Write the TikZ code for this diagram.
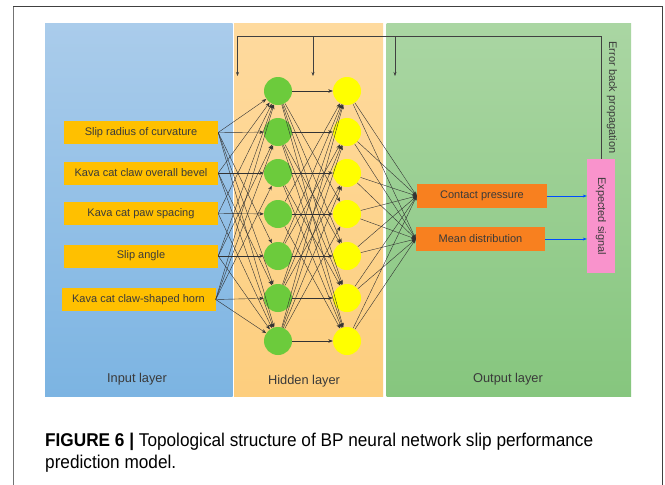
\documentclass[tikz,border=0pt]{standalone}
\usepackage{fontspec}
\setmainfont{Liberation Sans}
\newfontfamily\capfont[FakeStretch=0.93]{Liberation Sans}
\usetikzlibrary{arrows.meta}
\definecolor{inbox}{HTML}{FFC000}
\definecolor{outbox}{HTML}{F8801F}
\definecolor{sigbox}{HTML}{F993CC}
\definecolor{hidA}{HTML}{6CCB3C}
\definecolor{hidB}{HTML}{FFFF00}
\definecolor{textc}{HTML}{3A3A3A}
\tikzset{
  x=1pt, y=-1pt,
  lbl/.style={font=\fontsize{11}{13}\selectfont, text=textc},
  layerlbl/.style={font=\fontsize{12.8}{15}\selectfont, text=textc},
  inbox/.style={lbl, fill=inbox, minimum width=154pt, minimum height=23pt, inner sep=0pt},
  outbox/.style={lbl, fill=outbox, minimum width=130pt, minimum height=24pt, inner sep=0pt},
  neuronA/.style={circle, fill=hidA, minimum size=28pt, inner sep=0pt},
  neuronB/.style={circle, fill=hidB, minimum size=28pt, inner sep=0pt},
  link/.style={draw=black!80, line width=0.4pt, -{Stealth[length=4.5pt,width=3.5pt]}},
  feed/.style={draw=black!75, line width=0.45pt},
  sigarrow/.style={draw=blue!70!cyan, line width=0.5pt, -{Stealth[length=4pt,width=3pt]}},
}
\begin{document}
\begin{tikzpicture}
\useasboundingbox (0,0) rectangle (665,485);
\fill[white] (0,0) rectangle (665,485);
% outer frame
\draw[black!55, line width=0.9pt] (13,485) -- (13,6);
\draw[black!75, line width=0.9pt] (13,6) -- (662,6) -- (662,485);

% layer panels
\shade[top color={rgb,255:red,170;green,204;blue,235}, bottom color={rgb,255:red,124;green,180;blue,226}] (45,23) rectangle (232.5,396);
\shade[top color={rgb,255:red,254;green,218;blue,158}, bottom color={rgb,255:red,253;green,206;blue,126}] (234,23) rectangle (383,396);
\shade[top color={rgb,255:red,170;green,214;blue,163}, bottom color={rgb,255:red,134;green,198;blue,126}] (386.5,23) rectangle (631,396);

\node[layerlbl] (inlayer) at (137,379) {Input layer};
\node[layerlbl] (hidlayer) at (304,381) {Hidden layer};
\node[layerlbl] (outlayer) at (508,379) {Output layer};

% input nodes
\node[inbox] (in1) at (141,132.5) {Slip radius of curvature};
\node[inbox] (in2) at (141,173) {Kava cat claw overall bevel};
\node[inbox] (in3) at (141,213.5) {Kava cat paw spacing};
\node[inbox] (in4) at (141,256) {Slip angle};
\node[inbox] (in5) at (138.5,299.5) {Kava cat claw-shaped horn};

% hidden neurons
\foreach \i/\yy in {1/91,2/132,3/173,4/214,5/256,6/298,7/341}{
  \node[neuronA] (h\i) at (278,\yy) {};
  \node[neuronB] (g\i) at (347,\yy) {};
}

% output nodes
\node[outbox] (o1) at (482,196) {Contact pressure};
\node[outbox, minimum width=129pt] (o2) at (480.5,239) {Mean distribution};
\node[fill=sigbox, minimum width=28pt, minimum height=114pt, inner sep=0pt] (sig) at (601,216) {};
\node[lbl, rotate=-90] (siglabel) at (sig.center) {Expected signal};

% input -> first hidden layer
\foreach \i/\targets in {1/{1,2,5,6,7}, 2/{1,3,6,7}, 3/{1,4,7}, 4/{1,2,5,7}, 5/{1,2,3,6,7}}{
  \foreach \j in \targets {
    \draw[link] (in\i.east) -- (h\j);
  }
}
% first hidden -> second hidden layer
\foreach \i in {1,...,7}{
  \foreach \j in {1,...,7}{
    \pgfmathtruncatemacro{\dd}{abs(\i-\j)}
    \ifnum\dd=0 \draw[link] (h\i) -- (g\j);\fi
    \ifnum\dd>2 \draw[link] (h\i) -- (g\j);\fi
  }
  \draw[link] (g\i) -- (o1.west);
  \draw[link] (g\i) -- (o2.west);
}

% outputs to expected signal
\draw[sigarrow] (o1.east) -- (sig.west |- o1.east);
\draw[sigarrow] (o2.east) -- (sig.west |- o2.east);

% error back propagation path
\coordinate (ebtop) at (601,36);
\coordinate (ebl) at (237.5,36);
\coordinate (ebm) at (313,36);
\coordinate (ebr) at (395,36);
\coordinate (dl) at (237.5,76);
\coordinate (dm) at (313,76);
\coordinate (dr) at (395,76);
\draw[feed] (sig.north) -- (ebtop) -- (ebl);
\draw[feed, -{Stealth[length=4pt,width=3pt]}] (ebl) -- (dl);
\draw[feed, -{Stealth[length=4pt,width=3pt]}] (ebm) -- (dm);
\draw[feed, -{Stealth[length=4pt,width=3pt]}] (ebr) -- (dr);
\node[lbl, rotate=-90, anchor=west] (eblabel) at (612,38) {Error back propagation};

% caption
\node[anchor=base west, inner sep=0pt, font=\capfont\fontsize{18.5}{22}\selectfont] (cap1) at (45,446)
  {\textbf{FIGURE 6} \textbf{|} Topological structure of BP neural network slip performance};
\node[anchor=base west, inner sep=0pt, font=\capfont\fontsize{18.5}{22}\selectfont] (cap2) at (45,468)
  {prediction model.};
\end{tikzpicture}
\end{document}
